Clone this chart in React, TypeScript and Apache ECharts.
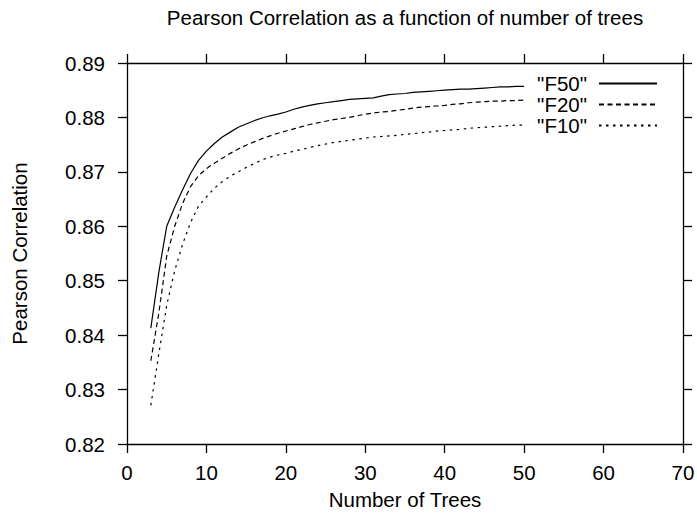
import React, { useEffect, useRef } from "react";
import * as echarts from "echarts";

const trees = [3,4,5,6,7,8,9,10,11,12,13,14,15,16,17,18,19,20,21,22,23,24,25,26,27,28,29,30,31,32,33,34,35,36,37,38,39,40,41,42,43,44,45,46,47,48,49,50];

const f50 = [0.8413,0.8515,0.8600,0.8635,0.8667,0.8697,0.8721,0.8738,0.8752,0.8764,0.8773,0.8782,0.8788,0.8794,0.8799,0.8803,0.8806,0.8810,0.8815,0.8819,0.8822,0.8825,0.8827,0.8829,0.8831,0.8833,0.8834,0.8835,0.8836,0.8839,0.8842,0.8843,0.8844,0.8846,0.8847,0.8848,0.8849,0.8850,0.8851,0.8852,0.8852,0.8853,0.8854,0.8855,0.8856,0.8856,0.8857,0.8857];

const f20 = [0.8353,0.8440,0.8545,0.8600,0.8642,0.8673,0.8693,0.8706,0.8716,0.8725,0.8734,0.8742,0.8749,0.8755,0.8761,0.8766,0.8771,0.8775,0.8779,0.8783,0.8787,0.8790,0.8793,0.8796,0.8798,0.8800,0.8803,0.8806,0.8808,0.8810,0.8811,0.8813,0.8815,0.8817,0.8819,0.8820,0.8821,0.8822,0.8824,0.8825,0.8827,0.8828,0.8829,0.8830,0.8830,0.8831,0.8831,0.8832];

const f10 = [0.8271,0.8365,0.8455,0.8518,0.8567,0.8607,0.8637,0.8654,0.8670,0.8682,0.8692,0.8700,0.8708,0.8715,0.8722,0.8727,0.8731,0.8734,0.8738,0.8741,0.8745,0.8748,0.8751,0.8754,0.8756,0.8758,0.8760,0.8762,0.8764,0.8765,0.8766,0.8767,0.8769,0.8770,0.8772,0.8773,0.8775,0.8776,0.8777,0.8778,0.8780,0.8781,0.8782,0.8783,0.8784,0.8785,0.8786,0.8786];

const seriesNames = ['"F50"', '"F20"', '"F10"'];
const seriesValues = [f50, f20, f10];
const dashTypes: any[] = ["solid", [5, 3.5], [2.5, 4.5]];

const titleText = "Pearson Correlation as a function of number of trees";
const xName = "Number of Trees";
const yName = "Pearson Correlation";

const FONT = "'Liberation Sans', Arial, Helvetica, sans-serif";

export default function App() {
  const ref = useRef<HTMLDivElement>(null);
  useEffect(() => {
    if (!ref.current) return;
    const chart = echarts.init(ref.current, null, { renderer: "svg" });
    const axisLine = { show: true, onZero: false, lineStyle: { color: "#000", width: 1.3 } };
    const axisTick = { show: true, inside: false, length: 9, lineStyle: { color: "#000", width: 1.3 } };
    const baseText = { color: "#000", fontSize: 20.5, fontFamily: FONT };
    chart.setOption({
      animation: false,
      backgroundColor: "#fff",
      title: {
        text: titleText,
        left: 400,
        top: 2,
        textAlign: "center",
        textStyle: { ...baseText, fontWeight: "normal" },
      },
      legend: {
        orient: "vertical",
        right: 39,
        top: 73,
        padding: 0,
        align: "right",
        itemWidth: 58,
        itemHeight: 14,
        itemGap: 0,
        selectedMode: false,
        itemStyle: { opacity: 0 },
        textStyle: { ...baseText, padding: [0, 7, 0, 0] },
        data: seriesNames,
      },
      grid: {
        left: 127,
        right: 14,
        top: 63,
        bottom: 69,
        containLabel: false,
        outerBoundsMode: "none",
      },
      xAxis: [
        {
          type: "value",
          min: 0,
          max: 70,
          interval: 10,
          position: "bottom",
          name: xName,
          nameLocation: "middle",
          nameGap: 45,
          nameTextStyle: baseText,
          axisLine,
          axisTick,
          splitLine: { show: false },
          axisLabel: { ...baseText, margin: 18 },
        },
        {
          type: "value",
          min: 0,
          max: 70,
          interval: 10,
          position: "top",
          axisLine,
          axisTick,
          splitLine: { show: false },
          axisLabel: { show: false },
        },
      ],
      yAxis: [
        {
          type: "value",
          min: 0.82,
          max: 0.89,
          interval: 0.01,
          position: "left",
          name: yName,
          nameLocation: "middle",
          nameGap: 97,
          nameTextStyle: baseText,
          axisLine,
          axisTick,
          splitLine: { show: false },
          axisLabel: { ...baseText, margin: 22, formatter: (v: number) => v.toFixed(2) },
        },
        {
          type: "value",
          min: 0.82,
          max: 0.89,
          interval: 0.01,
          position: "right",
          axisLine,
          axisTick,
          splitLine: { show: false },
          axisLabel: { show: false },
        },
      ],
      series: seriesNames.map((name, si) => ({
        name,
        type: "line",
        xAxisIndex: 0,
        yAxisIndex: 0,
        symbol: "none",
        silent: true,
        color: "#000",
        lineStyle: { color: "#000", width: 1.2, type: dashTypes[si] },
        data: trees.map((t, i) => [t, seriesValues[si][i]]),
      })),
    });
    return () => chart.dispose();
  }, []);
  return (
    <div
      ref={ref}
      style={{ position: "absolute", left: 0, top: 0, width: 697, height: 513 }}
    />
  );
}
